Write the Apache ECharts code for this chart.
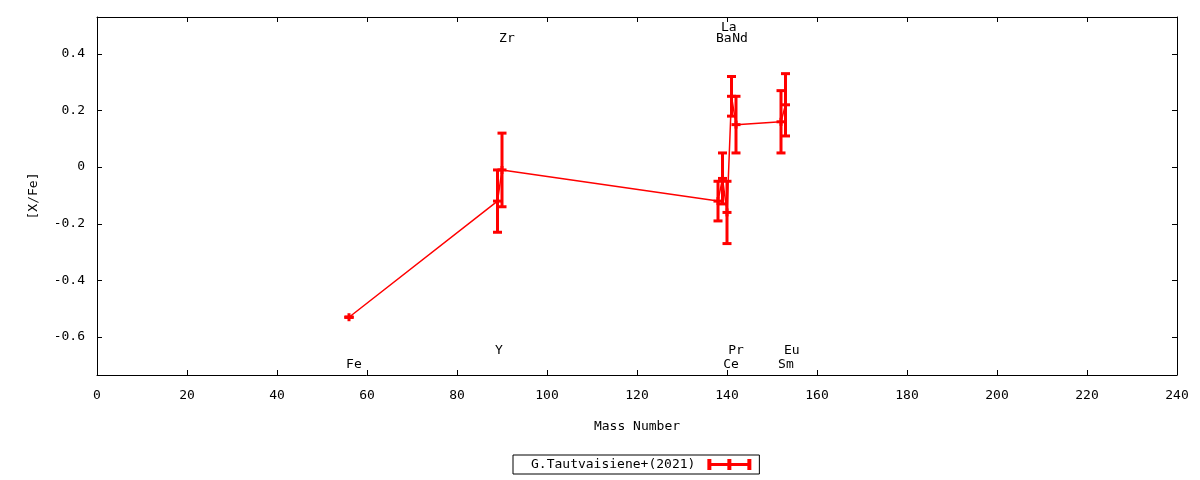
<!DOCTYPE html>
<html>
<head>
<meta charset="utf-8">
<script src="https://cdn.jsdelivr.net/npm/echarts@6/dist/echarts.min.js"></script>
<style>
html,body{margin:0;padding:0;background:#fff;}
#chart{width:1200px;height:480px;}
</style>
</head>
<body>
<div id="chart"></div>
<script>
// Data
var seriesName = 'G.Tautvaisiene+(2021)';
var massNumbers = [56, 89, 90, 138, 139, 140, 141, 142, 152, 153];
var xFeValues   = [-0.53, -0.12, -0.01, -0.12, -0.04, -0.16, 0.25, 0.15, 0.16, 0.22];
var xFeErrors   = [0.0, 0.11, 0.13, 0.07, 0.09, 0.11, 0.07, 0.10, 0.11, 0.11];

// Element name annotations (data coordinates)
var elementNames = ['Fe', 'Y', 'Zr', 'Ba', 'La', 'Nd', 'Ce', 'Pr', 'Sm', 'Eu'];
var elementLabelX = [57.1, 89.3, 91.1, 139.3, 140.4, 142.9, 140.9, 142.0, 153.1, 154.4];
var elementLabelY = [-0.697, -0.647, 0.453, 0.453, 0.493, 0.453, -0.697, -0.647, -0.697, -0.647];

var xTicks = [0, 20, 40, 60, 80, 100, 120, 140, 160, 180, 200, 220, 240];
var yTicks = [-0.6, -0.4, -0.2, 0, 0.2, 0.4];

var FONT = 'DejaVu Sans Mono';
var RED = '#ff0000';

var lineData = massNumbers.map(function (m, i) { return [m, xFeValues[i]]; });
var errData = massNumbers.map(function (m, i) { return [m, xFeValues[i], xFeErrors[i]]; });
var labelData = elementNames.map(function (n, i) { return [elementLabelX[i], elementLabelY[i], n]; });

function fmtY(v) {
  var ok = yTicks.some(function (t) { return Math.abs(t - v) < 1e-6; });
  if (!ok) return '';
  if (Math.abs(v) < 1e-9) return '0';
  return v.toFixed(1);
}

var chart = echarts.init(document.getElementById('chart'), null, {renderer: 'canvas'});
var axisCommon = {
  axisLine: {show: true, onZero: false, lineStyle: {color: '#000', width: 1}},
  axisTick: {show: true, inside: true, length: 5, lineStyle: {color: '#000'}},
  splitLine: {show: false}
};
var option = {
  animation: false,
  backgroundColor: '#fff',
  textStyle: {fontFamily: FONT},
  grid: {left: 97, right: 23, top: 17, bottom: 105},
  xAxis: [
    Object.assign({
      type: 'value', min: 0, max: 240, interval: 20, position: 'bottom',
      name: 'Mass Number', nameLocation: 'middle', nameGap: 45,
      nameTextStyle: {fontFamily: FONT, fontSize: 13, color: '#000'},
      axisLabel: {fontFamily: FONT, fontSize: 13, color: '#000', margin: 14}
    }, axisCommon),
    Object.assign({
      type: 'value', min: 0, max: 240, interval: 20, position: 'top',
      axisLabel: {show: false}
    }, axisCommon)
  ],
  yAxis: [
    Object.assign({
      type: 'value', min: -0.734, max: 0.53, splitNumber: 6, position: 'left',
      name: '[X/Fe]', nameLocation: 'middle', nameGap: 57, nameRotate: 90,
      nameTextStyle: {fontFamily: FONT, fontSize: 13, color: '#000'},
      axisLabel: {fontFamily: FONT, fontSize: 13, color: '#000', margin: 12,
        showMinLabel: false, showMaxLabel: false, formatter: fmtY}
    }, axisCommon),
    Object.assign({
      type: 'value', min: -0.734, max: 0.53, splitNumber: 6, position: 'right',
      axisLabel: {show: false}
    }, axisCommon)
  ],
  legend: {
    show: true,
    left: 513, top: 455,
    align: 'right',
    orient: 'horizontal',
    padding: [3, 8, 3, 18],
    borderColor: '#000', borderWidth: 1, borderRadius: 0,
    itemWidth: 44, itemHeight: 11,
    textStyle: {fontFamily: FONT, fontSize: 13, color: '#000', padding: [0, 7, 0, 0]},
    data: [{
      name: seriesName,
      icon: 'path://M0,4H44V7H0Z M0,0H4V11H0Z M40,0H44V11H40Z M20,0H24V11H20Z',
      itemStyle: {color: RED}
    }]
  },
  series: [
    {
      name: seriesName,
      type: 'line',
      data: lineData,
      symbol: 'none',
      lineStyle: {color: RED, width: 1.5},
      itemStyle: {color: RED},
      z: 2
    },
    {
      name: seriesName,
      type: 'custom',
      data: errData,
      itemStyle: {color: RED},
      z: 3,
      renderItem: function (params, api) {
        var x = api.value(0), y = api.value(1), e = api.value(2);
        var top = api.coord([x, y + e]);
        var bot = api.coord([x, y - e]);
        var mid = api.coord([x, y]);
        var cw = 9, ch = 3;
        var st = {fill: RED};
        return {
          type: 'group',
          children: [
            {type: 'rect', shape: {x: top[0] - 1.5, y: top[1], width: 3, height: bot[1] - top[1]}, style: st},
            {type: 'rect', shape: {x: top[0] - cw / 2, y: top[1] - ch / 2, width: cw, height: ch}, style: st},
            {type: 'rect', shape: {x: bot[0] - cw / 2, y: bot[1] - ch / 2, width: cw, height: ch}, style: st},
            {type: 'rect', shape: {x: mid[0] - cw / 2, y: mid[1] - ch / 2, width: cw, height: ch}, style: st},
            {type: 'rect', shape: {x: mid[0] - 1.5, y: mid[1] - 4, width: 3, height: 8}, style: st}
          ]
        };
      }
    },
    {
      name: 'labels',
      type: 'custom',
      data: labelData,
      silent: true,
      z: 4,
      renderItem: function (params, api) {
        var p = api.coord([api.value(0), api.value(1)]);
        return {
          type: 'text',
          style: {
            x: p[0], y: p[1],
            text: elementNames[params.dataIndex],
            fill: '#000',
            font: '13px "' + FONT + '"',
            align: 'center',
            verticalAlign: 'middle'
          }
        };
      }
    }
  ]
};
chart.setOption(option);
</script>
</body>
</html>
